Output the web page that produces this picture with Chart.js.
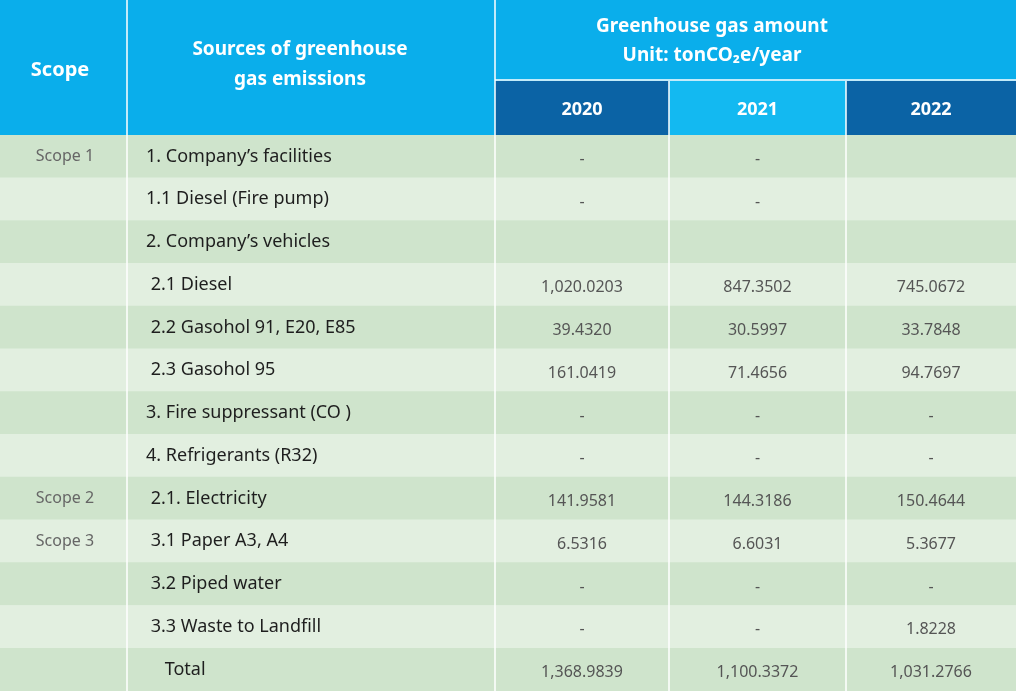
<!DOCTYPE html>
<html>
<head>
<meta charset="utf-8">
<script src="https://cdn.jsdelivr.net/npm/chart.js@4"></script>
<style>
  html, body { margin: 0; padding: 0; background: #fff; }
  #wrap { width: 1016px; height: 691px; }
</style>
</head>
<body>
<div id="wrap"><canvas id="tbl" width="1016" height="691"></canvas></div>
<script>
const scopes = ["Scope 1", "", "", "", "", "", "", "", "Scope 2", "Scope 3", "", "", ""];
const sources = [
  "1. Company’s facilities", "1.1 Diesel (Fire pump)", "2. Company’s vehicles",
  " 2.1 Diesel", " 2.2 Gasohol 91, E20, E85", " 2.3 Gasohol 95",
  "3. Fire suppressant (CO )", "4. Refrigerants (R32)", " 2.1. Electricity",
  " 3.1 Paper A3, A4", " 3.2 Piped water", " 3.3 Waste to Landfill", "    Total"
];
const years = ["2020", "2021", "2022"];
const values2020 = ["-", "-", "", "1,020.0203", "39.4320", "161.0419", "-", "-", "141.9581", "6.5316", "-", "-", "1,368.9839"];
const values2021 = ["-", "-", "", "847.3502", "30.5997", "71.4656", "-", "-", "144.3186", "6.6031", "-", "-", "1,100.3372"];
const values2022 = ["", "", "", "745.0672", "33.7848", "94.7697", "-", "-", "150.4644", "5.3677", "-", "1.8228", "1,031.2766"];

// column edges in px (layout)
const colEdges = [0, 127, 495, 669, 846, 1016];
const headerH = 135;
const rowColors = scopes.map((_, i) => i % 2 === 0 ? "#cfe4cc" : "#e2efe0");
const rowIdx = scopes.map((_, i) => i);

const datasets = colEdges.slice(0, -1).map((x0, c) => ({
  data: rowIdx.map(() => [x0, colEdges[c + 1]]),
  backgroundColor: rowColors,
  borderWidth: 0,
  borderSkipped: false,
  barPercentage: 1,
  categoryPercentage: 1,
  grouped: false
}));

const tablePlugin = {
  id: "tablePlugin",
  afterDatasetsDraw(chart) {
    const ctx = chart.ctx;
    const x = chart.scales.x, y = chart.scales.y;
    const px = v => x.getPixelForValue(v);
    ctx.save();
    // header
    ctx.fillStyle = "#0aaeeb";
    ctx.fillRect(0, 0, 1016, headerH);
    const yearFill = ["#0b63a5", "#13b9f1", "#0b63a5"];
    years.forEach((yr, k) => {
      ctx.fillStyle = yearFill[k];
      ctx.fillRect(px(colEdges[k + 2]), 81, px(colEdges[k + 3]) - px(colEdges[k + 2]), headerH - 81);
    });
    ctx.strokeStyle = "#ffffff";
    ctx.lineWidth = 1.5;
    ctx.beginPath();
    ctx.moveTo(px(colEdges[2]), 80); ctx.lineTo(1016, 80);
    [1, 2].forEach(c => { ctx.moveTo(px(colEdges[c]), 0); ctx.lineTo(px(colEdges[c]), 691); });
    [3, 4].forEach(c => { ctx.moveTo(px(colEdges[c]), 81); ctx.lineTo(px(colEdges[c]), 691); });
    ctx.stroke();

    ctx.fillStyle = "#ffffff";
    ctx.textAlign = "center";
    ctx.textBaseline = "middle";
    ctx.font = "bold 20px 'Noto Sans'";
    ctx.fillText("Scope", 60, 70);
    ctx.font = "bold 19px 'Noto Sans'";
    ctx.fillText("Sources of greenhouse", 300, 50);
    ctx.fillText("gas emissions", 300, 80);
    ctx.fillText("Greenhouse gas amount", 712, 27);
    ctx.fillText("Unit: tonCO₂e/year", 712, 56);
    ctx.font = "bold 18px 'Noto Sans'";
    years.forEach((yr, k) => {
      ctx.fillText(yr, (px(colEdges[k + 2]) + px(colEdges[k + 3])) / 2, 110);
    });

    // body text
    const cols = [values2020, values2021, values2022];
    rowIdx.forEach(i => {
      const cy = y.getPixelForValue(i);
      ctx.textAlign = "center";
      ctx.fillStyle = "#666";
      ctx.font = "16px 'Noto Sans'";
      if (scopes[i]) ctx.fillText(scopes[i], 65, cy);
      ctx.textAlign = "left";
      ctx.fillStyle = "#1e1e1e";
      ctx.font = "18px 'Noto Sans'";
      ctx.fillText(sources[i], 146, cy);
      ctx.textAlign = "center";
      ctx.fillStyle = "#555";
      ctx.font = "16px 'Noto Sans'";
      cols.forEach((vals, k) => {
        ctx.fillText(vals[i], (px(colEdges[k + 2]) + px(colEdges[k + 3])) / 2, cy + 3);
      });
    });
    ctx.restore();
  }
};

new Chart(document.getElementById("tbl"), {
  type: "bar",
  data: { labels: rowIdx, datasets },
  options: {
    indexAxis: "y",
    responsive: false,
    animation: false,
    layout: { padding: { top: headerH, left: 0, right: 0, bottom: 0 } },
    scales: {
      x: { type: "linear", min: 0, max: 1016, display: false },
      y: { type: "category", display: false, offset: true }
    },
    plugins: { legend: { display: false }, tooltip: { enabled: false } }
  },
  plugins: [tablePlugin]
});
</script>
</body>
</html>
